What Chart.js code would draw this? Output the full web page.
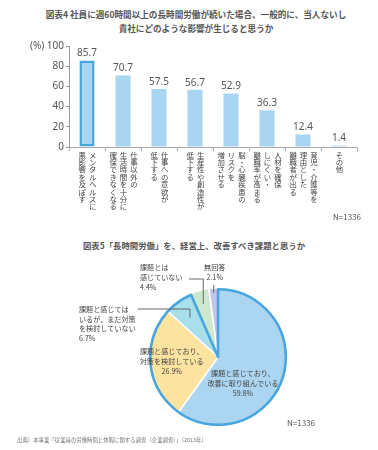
<!DOCTYPE html>
<html><head><meta charset="utf-8">
<script src="https://cdn.jsdelivr.net/npm/chart.js@4/dist/chart.umd.min.js"></script>
<style>
body{margin:0;width:378px;height:450px;background:#fff;position:relative;overflow:hidden;font-family:"Noto Sans CJK JP",sans-serif;}
.t{position:absolute;white-space:nowrap;}
.box{position:absolute;}
</style></head><body>
<div class="t" style="left:0;width:392px;top:8px;text-align:center;font-size:8.6px;line-height:13.5px;font-weight:bold;color:#555;">図表4 社員に週60時間以上の長時間労働が続いた場合、一般的に、当人ないし<br>貴社にどのような影響が生じると思うか</div>
<div class="box" style="left:0;top:38px;width:378px;height:192px;"><canvas id="bar"></canvas></div>
<div class="t" style="left:333px;top:211px;font-size:8px;color:#555;">N=1336</div>
<div class="t" style="left:0;width:388px;top:239px;text-align:center;font-size:8.4px;font-weight:bold;color:#555;">図表5「長時間労働」を、経営上、改善すべき課題と思うか</div>
<div class="box" style="left:0;top:255px;width:378px;height:185px;"><canvas id="pie"></canvas></div>
<div class="t" style="left:287px;top:417px;font-size:8px;color:#555;">N=1336</div>
<div class="t" style="left:17px;top:436px;font-size:5.4px;color:#777;">出典）本事業「従業員の労働時間と休暇に関する調査（企業調査）」（2013年）</div>
<script>
// ---- data: bar chart (図表4) ----
const barCategories = [
  ["メンタルヘルスに","悪影響を及ぼす"],
  ["仕事以外の","生活時間を十分に","確保できなくなる"],
  ["仕事への意欲が","低下する"],
  ["生産性や創造性が","低下する"],
  ["脳・心臓疾患の","リスクを","増加させる"],
  ["人材を確保","しにくい・","離職率が高まる"],
  ["育児・介護等を","理由とした","離職者が出る"],
  ["その他"]
];
const barValues = [85.7, 70.7, 57.5, 56.7, 52.9, 36.3, 12.4, 1.4];
const yTicks = [0, 20, 40, 60, 80, 100];

// ---- data: pie chart (図表5) ----
const pieLabels = [
  ["課題と感じており、","改善に取り組んでいる"],
  ["課題と感じており、","対策を検討している"],
  ["課題と感じては","いるが、まだ対策","を検討していない"],
  ["課題とは","感じていない"],
  ["無回答"]
];
const pieValues = [59.8, 26.9, 6.7, 4.4, 2.1];

Chart.defaults.font.family = '"Noto Sans CJK JP", "Noto Sans", sans-serif';
Chart.defaults.animation = false;

const barLabelPlugin = {
  id: 'barLabels',
  afterDraw(chart) {
    const ctx = chart.ctx;
    const xs = chart.scales.x;
    const meta = chart.getDatasetMeta(0);
    ctx.save();
    ctx.font = '10px "Noto Sans", sans-serif';
    ctx.fillStyle = '#555';
    ctx.textAlign = 'center';
    ctx.textBaseline = 'bottom';
    meta.data.forEach((bar, i) => {
      ctx.fillText(barValues[i].toFixed(1), bar.x, bar.y - 2);
    });
    ctx.font = '7.4px "Noto Sans CJK JP"';
    ctx.fillStyle = '#444';
    ctx.textBaseline = 'top';
    const gap = 10.4, pitch = 7.4, top = xs.top + 4;
    barCategories.forEach((cols, i) => {
      const cx = xs.getPixelForTick(i) + 0.5;
      const n = cols.length;
      cols.forEach((col, j) => {
        const x = cx + ((n - 1) / 2 - j) * gap;
        [...col].forEach((ch, k) => ctx.fillText(ch, x, top + k * pitch));
      });
    });
    ctx.restore();
  }
};

new Chart(document.getElementById('bar'), {
  type: 'bar',
  data: {
    labels: barCategories.map(c => c.join('')),
    datasets: [{
      data: barValues,
      backgroundColor: '#a9d5f1',
      borderColor: '#45a5df',
      borderWidth: c => c.dataIndex === 0 ? 2.5 : 0,
      borderSkipped: false,
      barPercentage: 0.42,
      categoryPercentage: 1
    }]
  },
  options: {
    responsive: true,
    maintainAspectRatio: false,
    devicePixelRatio: 1,
    layout: { padding: { top: 8, right: 21, left: 0, bottom: 0 } },
    plugins: { legend: { display: false }, tooltip: { enabled: false } },
    scales: {
      x: {
        ticks: { display: false },
        grid: { drawOnChartArea: false, color: '#aaa', tickLength: 4, offset: true },
        border: { color: '#aaa' },
        afterFit: s => { s.height = 83; }
      },
      y: {
        min: 0, max: 100,
        afterBuildTicks: s => { s.ticks = yTicks.map(v => ({ value: v })); },
        ticks: {
          color: '#555',
          font: { size: 10, family: '"Noto Sans", sans-serif' },
          padding: 2,
          callback: v => v === 100 ? '(%) 100' : String(v)
        },
        grid: { drawOnChartArea: false, color: '#999', tickLength: 3 },
        border: { color: '#999' },
        afterFit: s => { s.width = 69; }
      }
    }
  },
  plugins: [barLabelPlugin]
});

// ---- pie ----
const pieExtra = {
  id: 'pieExtra',
  afterDatasetsDraw(chart) {
    const ctx = chart.ctx;
    const arcs = chart.getDatasetMeta(0).data;
    const a0 = arcs[0], a2 = arcs[2];
    const cx = a0.x, cy = a0.y, R = a0.outerRadius;
    ctx.save();
    ctx.beginPath();
    ctx.moveTo(cx, cy);
    ctx.arc(cx, cy, R - 1.2, a0.startAngle, a2.endAngle);
    ctx.closePath();
    ctx.strokeStyle = '#48a6df';
    ctx.lineWidth = 2.6;
    ctx.lineJoin = 'round';
    ctx.stroke();

    ctx.font = '7.1px "Noto Sans CJK JP"';
    ctx.fillStyle = '#444';
    ctx.textBaseline = 'middle';
    const lh = 10;
    const pct = i => pieValues[i].toFixed(1) + '%';
    const lines = i => pieLabels[i].concat([pct(i)]);
    const pt = (i, f) => {
      const a = arcs[i];
      const m = (a.startAngle + a.endAngle) / 2;
      return { x: cx + Math.cos(m) * R * f, y: cy + Math.sin(m) * R * f };
    };
    // inside labels
    ctx.textAlign = 'center';
    [[0, -8, 16], [1, -12, 1]].forEach(([i, dx, dy]) => {
      const p = arcs[i].tooltipPosition();
      const L = lines(i);
      L.forEach((s, k) => ctx.fillText(s, p.x + dx, p.y + dy + (k - (L.length - 1) / 2) * lh));
    });
    // outside labels with leader lines (positions relative to pie centre)
    ctx.strokeStyle = '#666';
    ctx.lineWidth = 1;
    ctx.textAlign = 'left';
    // 6.7%
    let L = lines(2), tx = cx - 139, ty = cy - 48;
    L.forEach((s, k) => ctx.fillText(s, tx, ty + k * 9.8));
    let e = pt(2, 0.7);
    ctx.beginPath(); ctx.moveTo(cx - 80, ty); ctx.lineTo(e.x, ty); ctx.lineTo(e.x, e.y); ctx.stroke();
    // 4.4%
    L = lines(3); tx = cx - 78; ty = cy - 90;
    L.forEach((s, k) => ctx.fillText(s, tx, ty + k * 10.3));
    e = pt(3, 0.8);
    ctx.beginPath(); ctx.moveTo(cx - 29, ty + 12); ctx.lineTo(e.x, ty + 12); ctx.lineTo(e.x, e.y); ctx.stroke();
    // 2.1%
    L = lines(4); ctx.textAlign = 'center';
    e = pt(4, 0.93);
    L.forEach((s, k) => ctx.fillText(s, e.x + 1, cy - 90 + k * 10.5));
    ctx.beginPath(); ctx.moveTo(e.x, cy - 72); ctx.lineTo(e.x, e.y); ctx.stroke();
    ctx.restore();
  }
};

new Chart(document.getElementById('pie'), {
  type: 'pie',
  data: {
    labels: pieLabels.map(l => l.join('')),
    datasets: [{
      data: pieValues,
      backgroundColor: ['#abd5f1', '#fde3a0', '#a8dfeb', '#cde8cf', '#c4c4eb'],
      borderColor: '#fff',
      borderWidth: 1.5,
      radius: 69
    }]
  },
  options: {
    responsive: true,
    maintainAspectRatio: false,
    devicePixelRatio: 1,
    layout: { padding: { top: 33, bottom: 14, left: 149, right: 91 } },
    plugins: { legend: { display: false }, tooltip: { enabled: false } }
  },
  plugins: [pieExtra]
});
</script>
</body></html>
